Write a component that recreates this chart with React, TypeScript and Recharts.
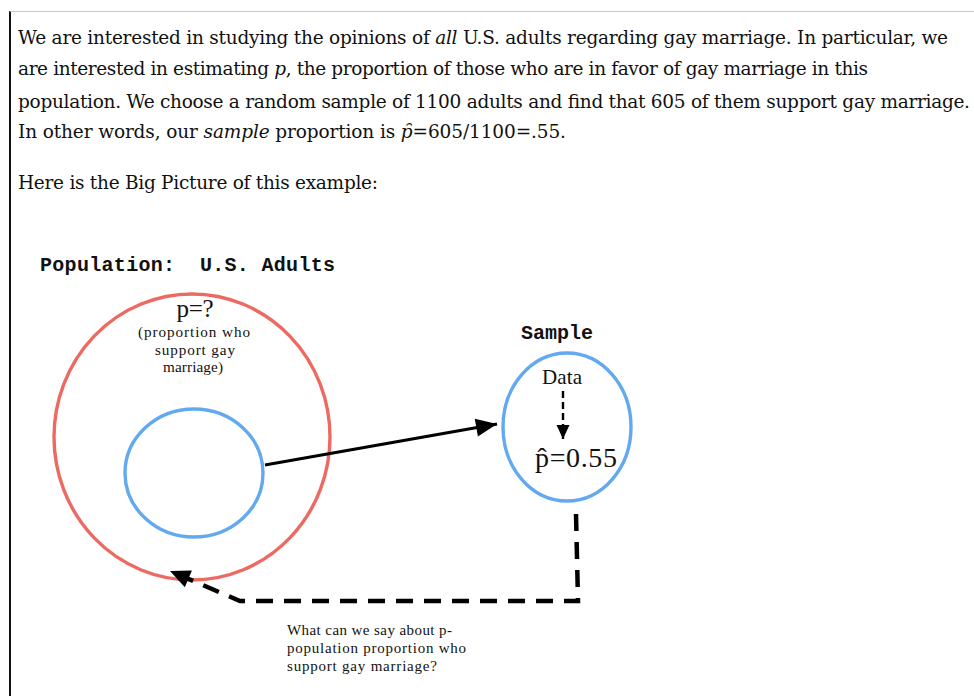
import React from "react";
import { ScatterChart, Scatter, XAxis, YAxis } from "recharts";

const W = 974;
const H = 696;

// paragraph above the picture, one entry per line: [text, italic] runs
const introRuns: [string, boolean][][] = [
  [["We are interested in studying the opinions of ", false], ["all", true], [" U.S. adults regarding gay marriage. In particular, we", false]],
  [["are interested in estimating ", false], ["p", true], [", the proportion of those who are in favor of gay marriage in this", false]],
  [["population. We choose a random sample of 1100 adults and find that 605 of them support gay marriage.", false]],
  [["In other words, our ", false], ["sample", true], [" proportion is ", false], ["p\u0311", true], ["=605/1100=.55.", false]],
  [["Here is the Big Picture of this example:", false]],
];
const introBaselines = [44, 75, 108, 138, 189];
const introWidths = [930, 850, 952, 548, 360];

// circles of the picture (centre and radii)
const ellipses = [
  { x: 192, y: 437, rx: 138, ry: 143, kind: "population" },
  { x: 194, y: 473, rx: 69, ry: 64, kind: "sampleInPop" },
  { x: 567, y: 427, rx: 64, ry: 74, kind: "sample" },
];

// arrows: polylines, the last point is the tip
const drawArrow = [
  { x: 265, y: 465 },
  { x: 497, y: 424 },
];
const dataArrow = [
  { x: 563, y: 391 },
  { x: 563, y: 439 },
];
const returnArrow = [
  { x: 576, y: 514 },
  { x: 578, y: 601 },
  { x: 240, y: 601 },
  { x: 170, y: 571 },
];

// labels of the picture
const labels = [
  { x: 40, y: 271, text: "Population:  U.S. Adults", kind: "mono", w: 295 },
  { x: 557, y: 339, text: "Sample", kind: "monoMid", w: 72 },
  { x: 195, y: 317, text: "p=?", kind: "big", w: 37 },
  { x: 194, y: 337, text: "(proportion who", kind: "small", w: 112 },
  { x: 195, y: 355, text: "support gay", kind: "small", w: 80 },
  { x: 193, y: 372, text: "marriage)", kind: "small", w: 60 },
  { x: 562, y: 384, text: "Data", kind: "data", w: 40 },
  { x: 576, y: 467, text: "p\u0302=0.55", kind: "phat", w: 82 },
  { x: 287, y: 635, text: "What can we say about p-", kind: "note", w: 165 },
  { x: 287, y: 653, text: "population proportion who", kind: "note", w: 179 },
  { x: 287, y: 671, text: "support gay marriage?", kind: "note", w: 150 },
];

const introRows = introRuns.map((runs, i) => ({
  x: 18,
  y: introBaselines[i],
  runs,
  w: introWidths[i],
}));

const KX = W / W;
const KY = H / H;

const serif = "'DejaVu Serif', serif";
const tnr = "'Liberation Serif', serif";
const mono = "'Liberation Mono', monospace";

const labelStyle: Record<string, any> = {
  mono: { fontFamily: mono, fontSize: 20, fontWeight: 700, anchor: "start" },
  monoMid: { fontFamily: mono, fontSize: 20, fontWeight: 700, anchor: "middle" },
  big: { fontFamily: tnr, fontSize: 25, fontWeight: 400, anchor: "middle" },
  small: { fontFamily: tnr, fontSize: 15.2, fontWeight: 400, anchor: "middle" },
  data: { fontFamily: tnr, fontSize: 21, fontWeight: 400, anchor: "middle" },
  phat: { fontFamily: tnr, fontSize: 28, fontWeight: 400, anchor: "middle" },
  note: { fontFamily: tnr, fontSize: 15, fontWeight: 400, anchor: "start" },
};

const ellipseColor: Record<string, string> = {
  population: "#ec6a61",
  sampleInPop: "#62a9f0",
  sample: "#62a9f0",
};

const EllipseShape = (props: any) => {
  const { cx, cy, payload } = props;
  return (
    <ellipse
      cx={cx}
      cy={cy}
      rx={payload.rx * KX}
      ry={payload.ry * KY}
      fill="none"
      stroke={ellipseColor[payload.kind]}
      strokeWidth={3.4}
    />
  );
};

const arrowHead = (pts: { x: number; y: number }[], len: number, half: number) => (props: any) => {
  const { cx, cy, payload } = props;
  const last = pts[pts.length - 1];
  if (payload.x !== last.x || payload.y !== last.y) return <g />;
  const prev = pts[pts.length - 2];
  const dx = (last.x - prev.x) * KX;
  const dy = (last.y - prev.y) * KY;
  const d = Math.hypot(dx, dy);
  const ux = dx / d;
  const uy = dy / d;
  const bx = cx - ux * len;
  const by = cy - uy * len;
  const p = `${cx},${cy} ${bx - uy * half},${by + ux * half} ${bx + uy * half},${by - ux * half}`;
  return <polygon points={p} fill="#000" />;
};

const LabelShape = (props: any) => {
  const { cx, cy, payload } = props;
  const s = labelStyle[payload.kind];
  return (
    <text
      x={cx}
      y={cy}
      fontFamily={s.fontFamily}
      fontSize={s.fontSize}
      fontWeight={s.fontWeight}
      textAnchor={s.anchor}
      textLength={payload.w}
      fill="#111"
      style={{ whiteSpace: "pre" }}
    >
      {payload.text}
    </text>
  );
};

const IntroShape = (props: any) => {
  const { cx, cy, payload } = props;
  return (
    <text
      x={cx}
      y={cy}
      fontFamily={serif}
      fontSize={18.5}
      fill="#111"
      textLength={payload.w}
      style={{ whiteSpace: "pre" }}
    >
      {payload.runs.map(([t, it]: [string, boolean], i: number) => (
        <tspan key={i} fontStyle={it ? "italic" : "normal"}>
          {t}
        </tspan>
      ))}
    </text>
  );
};

export default function App() {
  return (
    <div style={{ position: "absolute", left: 0, top: 0, width: W, height: H, background: "#fff" }}>
      <div
        style={{
          position: "absolute",
          left: 9,
          top: 11,
          width: W - 9,
          height: H - 11,
          borderTop: "1px solid #c9c9c9",
          borderLeft: "2px solid #111",
          boxSizing: "border-box",
        }}
      />
      <div style={{ position: "absolute", left: 0, top: 0 }}>
        <ScatterChart width={W} height={H} margin={{ top: 0, right: 0, bottom: 0, left: 0 }}>
          <XAxis type="number" dataKey="x" domain={[0, W]} hide allowDataOverflow />
          <YAxis type="number" dataKey="y" domain={[0, H]} reversed hide allowDataOverflow />
          <Scatter data={introRows} shape={<IntroShape />} isAnimationActive={false} />
          <Scatter data={ellipses} shape={<EllipseShape />} isAnimationActive={false} />
          <Scatter
            data={drawArrow}
            line={{ stroke: "#000", strokeWidth: 3.2 }}
            shape={arrowHead(drawArrow, 21, 9)}
            isAnimationActive={false}
          />
          <Scatter
            data={dataArrow}
            line={{ stroke: "#000", strokeWidth: 2.4, strokeDasharray: "7 4" }}
            shape={arrowHead(dataArrow, 14, 6.5)}
            isAnimationActive={false}
          />
          <Scatter
            data={returnArrow}
            line={{ stroke: "#000", strokeWidth: 4.5, strokeDasharray: "17 11" }}
            shape={arrowHead(returnArrow, 20, 9)}
            isAnimationActive={false}
          />
          <Scatter data={labels} shape={<LabelShape />} isAnimationActive={false} />
        </ScatterChart>
      </div>
    </div>
  );
}
